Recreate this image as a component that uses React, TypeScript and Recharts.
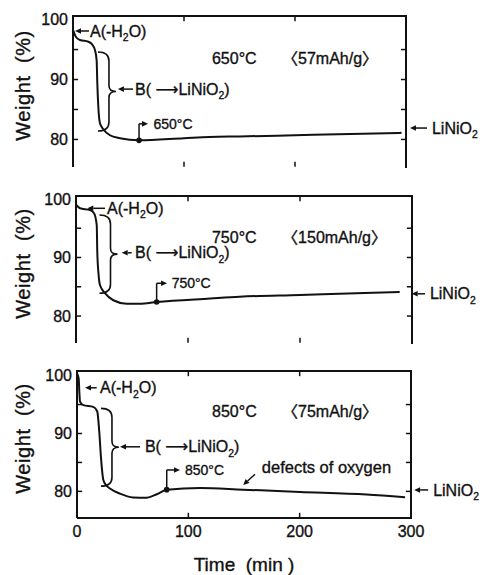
import React from 'react';
import { LineChart, Line, XAxis, YAxis, ReferenceLine, ReferenceDot } from 'recharts';

const FONT = '"Liberation Sans", Arial, "Noto Sans CJK JP", "DejaVu Sans", sans-serif';
const INK = '#111';

// ---- data (time in min, weight in %) ----
const time650 = [0, 2.7, 6.3, 13.8, 17, 19.8, 21.3, 21.9, 22.8, 24.3, 27.3, 33.3, 42.3, 59.5, 100, 123, 150, 200, 250, 296];
const weight650 = [98.3, 97.1, 96.6, 96.3, 95.9, 94.9, 93.2, 89.4, 85.5, 82.7, 81.7, 80.7, 80.2, 79.85, 80.2, 80.4, 80.5, 80.7, 80.9, 81.1];

const time750 = [0, 3.6, 12.5, 16.1, 18.5, 19, 20.2, 21.4, 25.9, 33.3, 45.3, 57, 72, 120, 146, 200, 250, 289];
const weight750 = [99.0, 98.4, 98.1, 97.55, 95.55, 91.0, 87.0, 85.3, 83.9, 82.7, 82.1, 82.1, 82.4, 83.0, 83.3, 83.6, 83.9, 84.1];

const time850 = [0, 1.5, 2.1, 2.7, 5.7, 14.6, 18.2, 20, 21.6, 23.6, 26, 29.6, 38.6, 50.3, 62.6, 71.6, 80.6, 110.5, 149, 200.4, 260, 294.7];
const weight850 = [100.4, 99.5, 97.2, 95.5, 94.9, 94.6, 93.8, 90.3, 85.7, 82.0, 81.1, 80.5, 79.6, 78.95, 78.9, 79.5, 80.3, 80.6, 80.3, 79.9, 79.45, 79.0];

const xTicks = [0, 100, 200, 300];
const yTicks = [80, 90, 100];
const innerXTicks = [100, 200];
const innerYTicks = [80, 85, 90, 95];

const temps = ['650°C', '750°C', '850°C'];
const capacities = ['〈57mAh/g〉', '〈150mAh/g〉', '〈75mAh/g〉'];
const markerTimes = [59.5, 72, 80.6];
const productLabel = 'LiNiO_2';
const aLabel = 'A(-H_2O)';
const bLabel = 'B( ⟶LiNiO_2)';
const defectsLabel = 'defects of oxygen';

// annotation anchors in data units
const titleAnchors = [[125.2, 93.6, 188.3], [121.4, 93.5, 184], [121.3, 93.8, 184.2]];
const aArrows = [[1.8, 14.4, 15.3, 98.1], [10.1, 25.9, 27.7, 98.4], [7.2, 17.7, 20.7, 97.9]];
const braces = [[32.4, 94.6, 81.4], [30.8, 97.25, 83.9], [31.4, 94.35, 80.9]];
const bArrows = [[40.5, 54, 55.9, 88.4], [40.8, 49.7, 52.7, 90.8], [38.6, 56.6, 61, 87.7]];
const markerBrackets = [[82.6, 67.6, 72.5], [85.6, 81.3, 85.4], [83.7, 92.5, 97]];
const productArrows = [[303.6, 318.9, 323.4, 81.9], [299.7, 311.6, 316, 83.8], [302.8, 315.4, 319.9, 80.25]];
const defectsArrow = [149.2, 81.1, 159.9, 82.95, 166, 84.1];

const panels = [
  { time: time650, weight: weight650, yDomain: [75.4, 100.6], top: 0, height: 180, left: 73, right: 406, bottomMargin: 13, xAxisHeight: 0, showX: false },
  { time: time750, weight: weight750, yDomain: [75.4, 100.5], top: 180, height: 175, left: 76, right: 412, bottomMargin: 12, xAxisHeight: 0, showX: false },
  { time: time850, weight: weight850, yDomain: [75.4, 100.8], top: 355, height: 220, left: 77, right: 411, bottomMargin: 0, xAxisHeight: 57, showX: true },
];
const PLOT_TOP = 16;

function RichText({ x, y, text, size, anchor = 'start' }: any) {
  const parts: { s: string; sub: boolean }[] = [];
  let buf = '';
  for (let i = 0; i < text.length; i++) {
    if (text[i] === '_' && i + 1 < text.length) {
      if (buf) parts.push({ s: buf, sub: false });
      buf = '';
      parts.push({ s: text[i + 1], sub: true });
      i++;
    } else buf += text[i];
  }
  if (buf) parts.push({ s: buf, sub: false });
  const shift = size * 0.28;
  let prevSub = false;
  return (
    <text x={x} y={y + size * 0.35} textAnchor={anchor} fontFamily={FONT} fontSize={size} fill={INK} stroke={INK} strokeWidth={0.35} style={{ whiteSpace: 'pre' }}>
      {parts.map((p, i) => {
        let dy = 0;
        if (p.sub && !prevSub) dy = shift;
        if (!p.sub && prevSub) dy = -shift;
        prevSub = p.sub;
        return (
          <tspan key={i} dy={dy} fontSize={p.sub ? size * 0.65 : size}>{p.s}</tspan>
        );
      })}
    </text>
  );
}

const textShape = (text: string, size: number, anchor = 'start') => (p: any) => (
  <RichText x={p.cx} y={p.cy} text={text} size={size} anchor={anchor} />
);

const arrowShape = (head: boolean, width = 1.5) => (p: any) => {
  const { x1, y1, x2, y2 } = p;
  const ang = Math.atan2(y2 - y1, x2 - x1);
  const L = 6, W = 2.8;
  const bx = head ? x2 - L * Math.cos(ang) : x2;
  const by = head ? y2 - L * Math.sin(ang) : y2;
  const pts = `${x2},${y2} ${bx - W * Math.sin(ang)},${by + W * Math.cos(ang)} ${bx + W * Math.sin(ang)},${by - W * Math.cos(ang)}`;
  return (
    <g>
      <line x1={x1} y1={y1} x2={bx} y2={by} stroke={INK} strokeWidth={width} />
      {head && <polygon points={pts} fill={INK} />}
    </g>
  );
};

// short inward tick mark, drawn from a point just inside the frame
const tickDot = (dx: number, dy: number) => (p: any) => (
  <line x1={p.cx - Math.sign(dx)} y1={p.cy - Math.sign(dy)} x2={p.cx + dx} y2={p.cy + dy} stroke={INK} strokeWidth={1.5} />
);

const braceShape = (p: any) => {
  const { x1, y1, y2 } = p;
  const top = Math.min(y1, y2);
  const bot = Math.max(y1, y2);
  const m = (top + bot) / 2;
  const a = 11, tip = 7;
  const d = `M ${x1 - a} ${top} Q ${x1} ${top} ${x1} ${top + 9} L ${x1} ${m - 6} Q ${x1} ${m} ${x1 + tip} ${m} Q ${x1} ${m} ${x1} ${m + 6} L ${x1} ${bot - 9} Q ${x1} ${bot} ${x1 - a} ${bot}`;
  return <path d={d} fill="none" stroke={INK} strokeWidth={1.6} />;
};

const dotShape = (p: any) => <circle cx={p.cx} cy={p.cy} r={2.8} fill={INK} />;

const yLabel = (props: any) => {
  const vb = props.viewBox;
  const cx = vb.x + 23;
  const cy = vb.y + vb.height / 2 - 6;
  return (
    <text x={cx} y={cy + 7} transform={`rotate(-90 ${cx} ${cy})`} textAnchor="middle" fontFamily={FONT} fontSize={20} letterSpacing={0.6} fill={INK} stroke={INK} strokeWidth={0.35} style={{ whiteSpace: 'pre' }}>
      Weight  (%)
    </text>
  );
};

const xLabel = (props: any) => {
  const vb = props.viewBox;
  const cx = vb.x + vb.width / 2;
  return (
    <text x={cx} y={vb.y + 53} textAnchor="middle" fontFamily={FONT} fontSize={19} fill={INK} stroke={INK} strokeWidth={0.35} style={{ whiteSpace: 'pre' }}>
      Time  (min )
    </text>
  );
};

const tickStyle = { fontSize: 16, fill: INK, fontFamily: FONT, stroke: INK, strokeWidth: 0.35 };

function Panel({ idx }: { idx: number }) {
  const cfg = panels[idx];
  const data = cfg.time.map((t, i) => ({ t, w: cfg.weight[i] }));
  const [yMin, yMax] = cfg.yDomain;
  const eps = (yMax - yMin) * 0.004;
  const plotBottom = cfg.height - cfg.bottomMargin - cfg.xAxisHeight;
  const mT = markerTimes[idx];
  const mW = cfg.weight[cfg.time.indexOf(mT)];
  const [tt, tw, tcap] = titleAnchors[idx];
  const [aH, aT, aX, aW] = aArrows[idx];
  const [bt, bTop, bBot] = braces[idx];
  const [bH, bT, bX, bW] = bArrows[idx];
  const [mTop, mTip, mText] = markerBrackets[idx];
  const [pH, pT, pX, pW] = productArrows[idx];
  return (
    <div style={{ position: 'absolute', left: 0, top: cfg.top, width: 484, height: cfg.height }}>
      <LineChart width={484} height={cfg.height} data={data} margin={{ top: PLOT_TOP, right: 484 - cfg.right, left: 0, bottom: cfg.bottomMargin }}>
        <XAxis dataKey="t" type="number" domain={[0, 300]} ticks={xTicks} allowDataOverflow height={cfg.xAxisHeight}
          axisLine={{ stroke: INK, strokeWidth: 2 }} tickLine={false} tickSize={6} tickMargin={2}
          tick={cfg.showX ? tickStyle : false}
          label={cfg.showX ? { content: xLabel } : undefined} />
        <YAxis type="number" domain={cfg.yDomain} ticks={yTicks} allowDataOverflow width={cfg.left}
          axisLine={{ stroke: INK, strokeWidth: 2 }} tickLine={false} tickSize={3} tickMargin={2} tick={tickStyle}
          label={{ content: yLabel }} />

        <Line dataKey="w" type="monotone" stroke={INK} strokeWidth={2} dot={false} isAnimationActive={false} />

        {innerYTicks.map((v) => (
          <ReferenceDot key={`l${v}`} x={1} y={v} ifOverflow="visible" shape={tickDot(4, 0)} />
        ))}
        {innerYTicks.map((v) => (
          <ReferenceDot key={`r${v}`} x={299} y={v} ifOverflow="visible" shape={tickDot(-4, 0)} />
        ))}
        {innerXTicks.map((v) => (
          <ReferenceDot key={`b${v}`} x={v} y={yMin + eps * 2} ifOverflow="visible" shape={tickDot(0, -4)} />
        ))}
        {innerXTicks.map((v) => (
          <ReferenceDot key={`t${v}`} x={v} y={yMax - eps * 2} ifOverflow="visible" shape={tickDot(0, 4)} />
        ))}

        <ReferenceDot x={tt} y={tw} ifOverflow="visible" shape={textShape(temps[idx], 16)} />
        <ReferenceDot x={tcap} y={tw} ifOverflow="visible" shape={textShape(capacities[idx], 16)} />

        <ReferenceLine segment={[{ x: aT, y: aW }, { x: aH, y: aW }]} ifOverflow="visible" shape={arrowShape(true)} />
        <ReferenceDot x={aX} y={aW} ifOverflow="visible" shape={textShape(aLabel, 16)} />

        <ReferenceLine segment={[{ x: bt, y: bTop }, { x: bt, y: bBot }]} ifOverflow="visible" shape={braceShape} />
        <ReferenceLine segment={[{ x: bT, y: bW }, { x: bH, y: bW }]} ifOverflow="visible" shape={arrowShape(true)} />
        <ReferenceDot x={bX} y={bW} ifOverflow="visible" shape={textShape(bLabel, 16)} />

        <ReferenceLine segment={[{ x: mT, y: mW }, { x: mT, y: mTop }]} ifOverflow="visible" shape={arrowShape(false)} />
        <ReferenceLine segment={[{ x: mT, y: mTop }, { x: mTip, y: mTop }]} ifOverflow="visible" shape={arrowShape(true)} />
        <ReferenceDot x={mT} y={mW} ifOverflow="visible" shape={dotShape} />
        <ReferenceDot x={mText} y={mTop} ifOverflow="visible" shape={textShape(temps[idx], 14)} />

        <ReferenceLine segment={[{ x: pT, y: pW }, { x: pH, y: pW }]} ifOverflow="visible" shape={arrowShape(true)} />
        <ReferenceDot x={pX} y={pW} ifOverflow="visible" shape={textShape(productLabel, 16)} />

        {idx === 2 && (
          <ReferenceLine segment={[{ x: defectsArrow[2], y: defectsArrow[3] }, { x: defectsArrow[0], y: defectsArrow[1] }]} ifOverflow="visible" shape={arrowShape(true)} />
        )}
        {idx === 2 && (
          <ReferenceDot x={defectsArrow[4]} y={defectsArrow[5]} ifOverflow="visible" shape={textShape(defectsLabel, 16.5)} />
        )}
      </LineChart>
      {/* top and right edges of the plot frame */}
      <div style={{
        position: 'absolute', left: cfg.left - 1, top: PLOT_TOP - 1,
        width: cfg.right - cfg.left + 2, height: plotBottom - PLOT_TOP + 2,
        borderTop: `2px solid ${INK}`, borderRight: `2px solid ${INK}`, boxSizing: 'border-box', pointerEvents: 'none',
      }} />
    </div>
  );
}

export default function App() {
  return (
    <div style={{ position: 'absolute', left: 0, top: 0, width: 484, height: 575, background: '#fff' }}>
      <Panel idx={0} />
      <Panel idx={1} />
      <Panel idx={2} />
    </div>
  );
}
